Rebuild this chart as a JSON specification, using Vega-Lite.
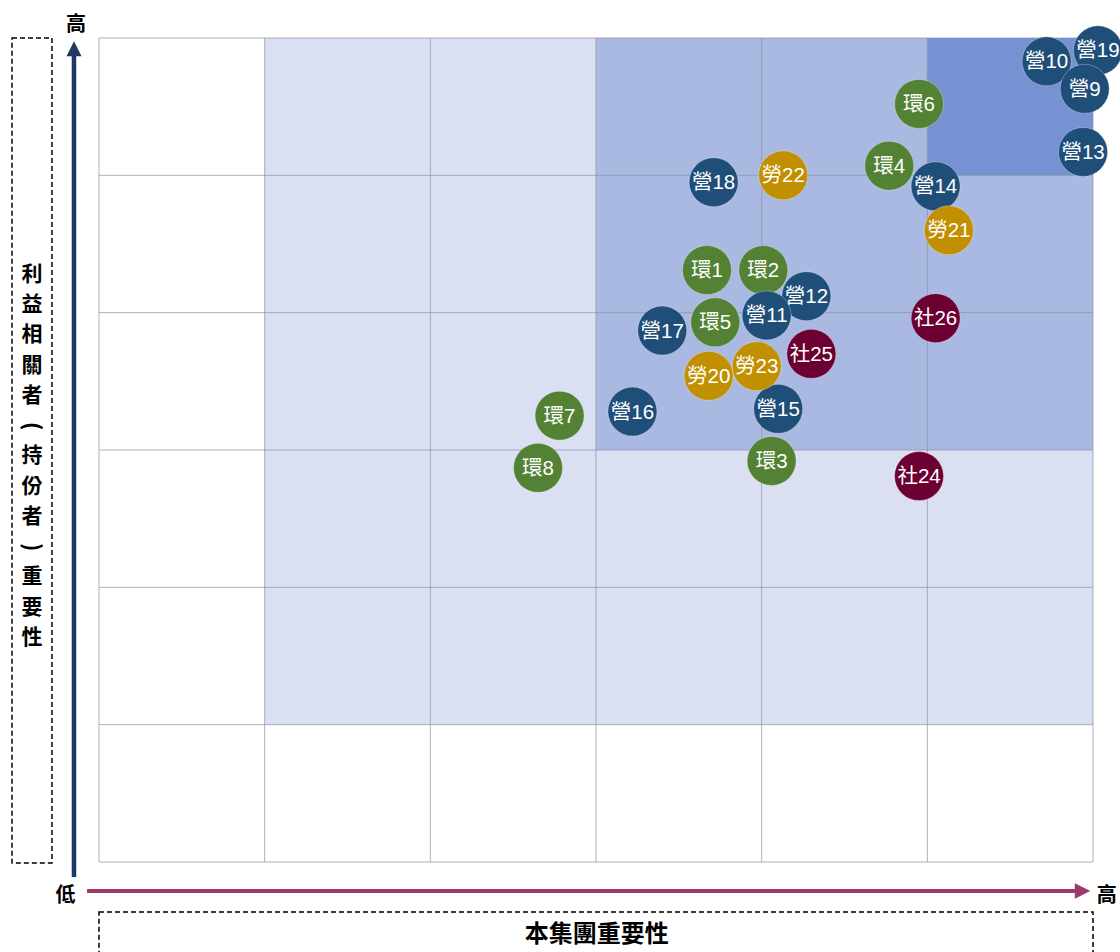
{
  "$schema": "https://vega.github.io/schema/vega-lite/v6.json",
  "width": 994,
  "height": 824,
  "autosize": {"type": "none"},
  "padding": {"left": 99, "top": 38, "right": 27, "bottom": 90},
  "background": "white",
  "config": {"view": {"stroke": null}, "axis": {"disable": true}},
  "datasets": {
    "zones": [
      {"zone": "low", "x1": 1, "x2": 6, "y1": 1, "y2": 6},
      {"zone": "mid", "x1": 3, "x2": 6, "y1": 3, "y2": 6},
      {"zone": "high", "x1": 5, "x2": 6, "y1": 5, "y2": 6}
    ],
    "grid": [{"v": 0}, {"v": 1}, {"v": 2}, {"v": 3}, {"v": 4}, {"v": 5}, {"v": 6}],
    "topics": [
      {"label": "環1", "group": "環", "x": 3.67, "y": 4.31},
      {"label": "環2", "group": "環", "x": 4.01, "y": 4.31},
      {"label": "環3", "group": "環", "x": 4.06, "y": 2.92},
      {"label": "環4", "group": "環", "x": 4.77, "y": 5.07},
      {"label": "環5", "group": "環", "x": 3.72, "y": 3.93},
      {"label": "環6", "group": "環", "x": 4.95, "y": 5.52},
      {"label": "環7", "group": "環", "x": 2.78, "y": 3.25},
      {"label": "環8", "group": "環", "x": 2.65, "y": 2.87},
      {"label": "營10", "group": "營", "x": 5.72, "y": 5.83},
      {"label": "營19", "group": "營", "x": 6.03, "y": 5.91},
      {"label": "營9", "group": "營", "x": 5.95, "y": 5.63},
      {"label": "營12", "group": "營", "x": 4.27, "y": 4.12},
      {"label": "營11", "group": "營", "x": 4.03, "y": 3.98},
      {"label": "營13", "group": "營", "x": 5.94, "y": 5.17},
      {"label": "營14", "group": "營", "x": 5.05, "y": 4.92},
      {"label": "營15", "group": "營", "x": 4.10, "y": 3.30},
      {"label": "營16", "group": "營", "x": 3.22, "y": 3.28},
      {"label": "營17", "group": "營", "x": 3.40, "y": 3.87},
      {"label": "營18", "group": "營", "x": 3.71, "y": 4.95},
      {"label": "勞20", "group": "勞", "x": 3.68, "y": 3.54},
      {"label": "勞21", "group": "勞", "x": 5.13, "y": 4.60},
      {"label": "勞22", "group": "勞", "x": 4.13, "y": 5.00},
      {"label": "勞23", "group": "勞", "x": 3.97, "y": 3.61},
      {"label": "社24", "group": "社", "x": 4.95, "y": 2.81},
      {"label": "社25", "group": "社", "x": 4.30, "y": 3.70},
      {"label": "社26", "group": "社", "x": 5.05, "y": 3.96}
    ]
  },
  "layer": [
    {
      "data": {"name": "zones"},
      "mark": {"type": "rect"},
      "encoding": {
        "x": {"field": "x1", "type": "quantitative", "scale": {"domain": [0, 6], "nice": false, "zero": false}},
        "x2": {"field": "x2"},
        "y": {"field": "y1", "type": "quantitative", "scale": {"domain": [0, 6], "nice": false, "zero": false}},
        "y2": {"field": "y2"},
        "fill": {"field": "zone", "type": "nominal", "scale": {"domain": ["low", "mid", "high"], "range": ["#dae0f2", "#a9b9e2", "#7692d3"]}, "legend": null}
      }
    },
    {
      "data": {"name": "grid"},
      "mark": {"type": "rule", "color": "#8c90a4", "strokeWidth": 1, "opacity": 0.7},
      "encoding": {
        "x": {"field": "v", "type": "quantitative"},
        "y": {"datum": 0},
        "y2": {"datum": 6}
      }
    },
    {
      "data": {"name": "grid"},
      "mark": {"type": "rule", "color": "#8c90a4", "strokeWidth": 1, "opacity": 0.7},
      "encoding": {
        "y": {"field": "v", "type": "quantitative"},
        "x": {"datum": 0},
        "x2": {"datum": 6}
      }
    },
    {
      "data": {"name": "topics"},
      "mark": {"type": "circle", "size": 2401, "opacity": 1, "stroke": "#ffffff", "strokeWidth": 0.6, "strokeOpacity": 0.5},
      "encoding": {
        "x": {"field": "x", "type": "quantitative"},
        "y": {"field": "y", "type": "quantitative"},
        "color": {"field": "group", "type": "nominal", "scale": {"domain": ["營", "環", "勞", "社"], "range": ["#1f4e79", "#538234", "#c09000", "#6c0032"]}, "legend": null}
      }
    },
    {
      "data": {"name": "topics"},
      "mark": {"type": "text", "fontSize": 20.5, "color": "#ffffff", "font": "Liberation Sans, Noto Sans CJK TC", "align": "center", "baseline": "middle", "dy": 1},
      "encoding": {
        "x": {"field": "x", "type": "quantitative"},
        "y": {"field": "y", "type": "quantitative"},
        "text": {"field": "label"}
      }
    },
    {
      "data": {"values": [{}]},
      "mark": {"type": "rule", "color": "#203864", "strokeWidth": 4.5},
      "encoding": {"x": {"datum": -0.151}, "y": {"datum": -0.109}, "y2": {"datum": 5.9}}
    },
    {
      "data": {"values": [{}]},
      "mark": {"type": "point", "shape": "M-1,1L1,1L0,-1Z", "filled": true, "size": 225, "color": "#203864", "opacity": 1},
      "encoding": {"x": {"datum": -0.151}, "y": {"datum": 5.921}}
    },
    {
      "data": {"values": [{}]},
      "mark": {"type": "rule", "color": "#9b3a6b", "strokeWidth": 4},
      "encoding": {"y": {"datum": -0.211}, "x": {"datum": -0.072}, "x2": {"datum": 5.9}}
    },
    {
      "data": {"values": [{}]},
      "mark": {"type": "point", "shape": "M-1,-1L1,0L-1,1Z", "filled": true, "size": 240, "color": "#9b3a6b", "opacity": 1},
      "encoding": {"x": {"datum": 5.937}, "y": {"datum": -0.211}}
    },
    {
      "data": {"values": [{"t": "高"}]},
      "mark": {"type": "text", "fontSize": 20, "fontWeight": "bold", "font": "Noto Sans CJK TC", "color": "#000000", "align": "center", "baseline": "middle"},
      "encoding": {"x": {"datum": -0.139}, "y": {"datum": 6.096}, "text": {"field": "t"}}
    },
    {
      "data": {"values": [{"t": "低"}]},
      "mark": {"type": "text", "fontSize": 20, "fontWeight": "bold", "font": "Noto Sans CJK TC", "color": "#000000", "align": "center", "baseline": "middle"},
      "encoding": {"x": {"datum": -0.202}, "y": {"datum": -0.244}, "text": {"field": "t"}}
    },
    {
      "data": {"values": [{"t": "高"}]},
      "mark": {"type": "text", "fontSize": 20, "fontWeight": "bold", "font": "Noto Sans CJK TC", "color": "#000000", "align": "center", "baseline": "middle"},
      "encoding": {"x": {"datum": 6.083}, "y": {"datum": -0.244}, "text": {"field": "t"}}
    },
    {
      "data": {"values": [{}]},
      "mark": {"type": "rect", "fill": null, "fillOpacity": 0, "stroke": "#000000", "strokeWidth": 1.5, "strokeDash": [5, 3]},
      "encoding": {"x": {"datum": -0.525}, "x2": {"datum": -0.284}, "y": {"datum": -0.007}, "y2": {"datum": 6}}
    },
    {
      "data": {"values": [{}]},
      "mark": {"type": "rect", "fill": null, "fillOpacity": 0, "stroke": "#000000", "strokeWidth": 1.5, "strokeDash": [5, 3]},
      "encoding": {"x": {"datum": 0}, "x2": {"datum": 6}, "y": {"datum": -0.364}, "y2": {"datum": -0.8}}
    },
    {
      "data": {"values": [{"t": "利\n益\n相\n關\n者"}]},
      "mark": {"type": "text", "fontSize": 21, "fontWeight": "bold", "font": "Noto Sans CJK TC", "color": "#000000", "align": "center", "baseline": "middle", "lineBreak": "\n", "lineHeight": 30.25},
      "encoding": {"x": {"datum": -0.404}, "y": {"datum": 4.275}, "text": {"field": "t"}}
    },
    {
      "data": {"values": [{"t": "持\n份\n者"}]},
      "mark": {"type": "text", "fontSize": 21, "fontWeight": "bold", "font": "Noto Sans CJK TC", "color": "#000000", "align": "center", "baseline": "middle", "lineBreak": "\n", "lineHeight": 30.25},
      "encoding": {"x": {"datum": -0.404}, "y": {"datum": 2.953}, "text": {"field": "t"}}
    },
    {
      "data": {"values": [{"t": "重\n要\n性"}]},
      "mark": {"type": "text", "fontSize": 21, "fontWeight": "bold", "font": "Noto Sans CJK TC", "color": "#000000", "align": "center", "baseline": "middle", "lineBreak": "\n", "lineHeight": 30.25},
      "encoding": {"x": {"datum": -0.404}, "y": {"datum": 2.072}, "text": {"field": "t"}}
    },
    {
      "data": {"values": [{"t": "("}]},
      "mark": {"type": "text", "fontSize": 22, "fontWeight": "bold", "font": "Noto Sans CJK TC", "color": "#000000", "align": "center", "baseline": "middle", "angle": 90},
      "encoding": {"x": {"datum": -0.404}, "y": {"datum": 3.174}, "text": {"field": "t"}}
    },
    {
      "data": {"values": [{"t": ")"}]},
      "mark": {"type": "text", "fontSize": 22, "fontWeight": "bold", "font": "Noto Sans CJK TC", "color": "#000000", "align": "center", "baseline": "middle", "angle": 90},
      "encoding": {"x": {"datum": -0.404}, "y": {"datum": 2.292}, "text": {"field": "t"}}
    },
    {
      "data": {"values": [{"t": "本集團重要性"}]},
      "mark": {"type": "text", "fontSize": 24, "fontWeight": "bold", "font": "Noto Sans CJK TC", "color": "#000000", "align": "center", "baseline": "middle"},
      "encoding": {"x": {"datum": 3.005}, "y": {"datum": -0.532}, "text": {"field": "t"}}
    }
  ]
}
